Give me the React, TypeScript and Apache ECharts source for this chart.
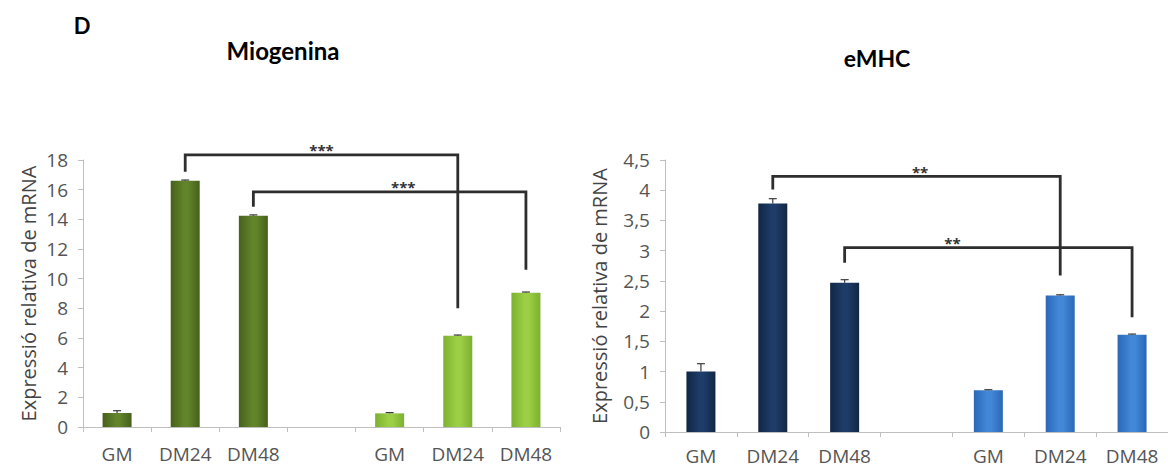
import React, { useEffect, useRef } from "react";
import * as echarts from "echarts";

const categories = ["GM", "DM24", "DM48", "", "GM", "DM24", "DM48"];

// Miogenina
const mioDark = [0.95, 16.6, 14.25, null, null, null, null];
const mioLight = [null, null, null, null, 0.92, 6.15, 9.05];
const mioErr = [0.15, 0.05, 0.05, null, 0.05, 0.05, 0.05];
const mioTicks = [0, 2, 4, 6, 8, 10, 12, 14, 16, 18];

// eMHC
const mhcDark = [1.0, 3.78, 2.47, null, null, null, null];
const mhcLight = [null, null, null, null, 0.69, 2.26, 1.61];
const mhcErr = [0.13, 0.08, 0.05, null, 0.01, 0.01, 0.01];
const mhcTicks = [0, 0.5, 1, 1.5, 2, 2.5, 3, 3.5, 4, 4.5];

// brackets: [fromCat, toCat, topValue, leftEndValue, rightEndValue, labelCat]
const mioBrackets = [
  [1, 5, 18.35, 17.2, 8.0, 3.0],
  [2, 6, 15.85, 14.85, 10.6, 4.2],
];
const mioStars = ["***", "***"];
const mhcBrackets = [
  [1, 5, 4.23, 4.01, 2.59, 3.05],
  [2, 6, 3.05, 2.8, 1.9, 3.5],
];
const mhcStars = ["**", "**"];

const TITLE_FONT = "Lato, 'Open Sans', sans-serif";
const FONT = "'Open Sans', Lato, sans-serif";
const AXIS_GRAY = "#bfbfbf";
const TEXT_GRAY = "#444";

function cyl(edge: string, mid: string) {
  return new echarts.graphic.LinearGradient(0, 0, 1, 0, [
    { offset: 0, color: edge },
    { offset: 0.45, color: mid },
    { offset: 0.6, color: mid },
    { offset: 1, color: edge },
  ]);
}

function bracketSeries(gridIdx: number, data: number[][], stars: string[]) {
  return {
    type: "custom",
    xAxisIndex: gridIdx,
    yAxisIndex: gridIdx,
    clip: false,
    silent: true,
    z: 5,
    encode: { x: 0, y: 2 },
    data: data,
    renderItem: (params: any, api: any) => {
      const x1 = api.value(0);
      const x2 = api.value(1);
      const top = api.value(2);
      const l = api.value(3);
      const r = api.value(4);
      const lc = api.value(5);
      const pL = api.coord([x1, l]);
      const pLT = api.coord([x1, top]);
      const pRT = api.coord([x2, top]);
      const pR = api.coord([x2, r]);
      const pLab = api.coord([Math.round(lc), top]);
      const size = api.size([1, 0]);
      const lx = pLab[0] + (lc - Math.round(lc)) * size[0];
      return {
        type: "group",
        children: [
          {
            type: "polyline",
            shape: { points: [pL, pLT, pRT, pR] },
            style: { stroke: "#2e2e2e", lineWidth: 2.8, fill: "none" },
          },
          {
            type: "text",
            x: lx,
            y: pLT[1] + 3,
            style: {
              text: stars[params.dataIndex],
              fontSize: 15,
              fontWeight: "bold",
              fill: "#333",
              align: "center",
              verticalAlign: "bottom",
              fontFamily: FONT,
            },
          },
        ],
      };
    },
  };
}

function errSeries(gridIdx: number, vals: (number | null)[], errs: (number | null)[]) {
  const data: any[] = [];
  vals.forEach((v, i) => {
    if (v != null && errs[i] != null) data.push([i, v, errs[i]]);
  });
  return {
    type: "custom",
    xAxisIndex: gridIdx,
    yAxisIndex: gridIdx,
    clip: false,
    silent: true,
    z: 4,
    encode: { x: 0, y: 1 },
    data,
    renderItem: (params: any, api: any) => {
      const i = api.value(0);
      const v = api.value(1);
      const e = api.value(2);
      const p0 = api.coord([i, v]);
      const p1 = api.coord([i, v + e]);
      return {
        type: "group",
        children: [
          {
            type: "line",
            shape: { x1: p0[0], y1: p0[1], x2: p1[0], y2: p1[1] },
            style: { stroke: "#3a3a3a", lineWidth: 1.2 },
          },
          {
            type: "line",
            shape: { x1: p1[0] - 4, y1: p1[1], x2: p1[0] + 4, y2: p1[1] },
            style: { stroke: "#3a3a3a", lineWidth: 1.2 },
          },
        ],
      };
    },
  };
}

function xAxis(gridIndex: number, margin: number) {
  return {
    type: "category",
    gridIndex,
    data: categories,
    axisLine: { lineStyle: { color: AXIS_GRAY, width: 1 } },
    axisTick: { show: true, length: 5, lineStyle: { color: AXIS_GRAY } },
    axisLabel: {
      color: "#555",
      fontSize: 19,
      margin,
      fontFamily: FONT,
      interval: 0,
    },
    splitLine: { show: false },
  };
}

function yAxis(gridIndex: number, ticks: number[], comma: boolean, gap: number) {
  return {
    type: "value",
    gridIndex,
    min: ticks[0],
    max: ticks[ticks.length - 1],
    interval: ticks[1] - ticks[0],
    name: "Expressió relativa de mRNA",
    nameLocation: "middle",
    nameGap: gap,
    nameTextStyle: { color: TEXT_GRAY, fontSize: 20, fontFamily: FONT },
    axisLine: { show: true, lineStyle: { color: AXIS_GRAY, width: 1 } },
    axisTick: { show: true, length: 5, lineStyle: { color: AXIS_GRAY } },
    axisLabel: {
      color: "#555",
      fontSize: 19,
      margin: 15,
      fontFamily: FONT,
      formatter: (v: number) => (comma ? String(v).replace(".", ",") : String(v)),
    },
    splitLine: { show: false },
  };
}

export default function App() {
  const ref = useRef<HTMLDivElement>(null);
  useEffect(() => {
    if (!ref.current) return;
    const chart = echarts.init(ref.current, null, { renderer: "svg" });
    const option: any = {
      animation: false,
      backgroundColor: "#ffffff",
      grid: [
        { left: 83, top: 160, width: 477, height: 267 },
        { left: 665, top: 160, width: 510, height: 272 },
      ],
      xAxis: [xAxis(0, 17), xAxis(1, 14)],
      yAxis: [yAxis(0, mioTicks, false, 45), yAxis(1, mhcTicks, true, 56)],
      graphic: [
        {
          type: "text",
          x: 82,
          y: 25,
          style: { text: "D", fontSize: 22, fontWeight: "bold", fill: "#000", fontFamily: TITLE_FONT, align: "center", verticalAlign: "middle" },
        },
        {
          type: "text",
          x: 283,
          y: 50,
          style: { text: "Miogenina", fontSize: 24, fontWeight: "bold", fill: "#000", fontFamily: TITLE_FONT, align: "center", verticalAlign: "middle" },
        },
        {
          type: "text",
          x: 877,
          y: 58,
          style: { text: "eMHC", fontSize: 23, fontWeight: "bold", fill: "#000", fontFamily: TITLE_FONT, align: "center", verticalAlign: "middle" },
        },
      ],
      series: [
        {
          type: "bar",
          xAxisIndex: 0,
          yAxisIndex: 0,
          data: mioDark,
          barWidth: 29,
          barGap: "-100%",
          itemStyle: { color: cyl("#46601c", "#62842a") },
        },
        {
          type: "bar",
          xAxisIndex: 0,
          yAxisIndex: 0,
          data: mioLight,
          barWidth: 29,
          barGap: "-100%",
          itemStyle: { color: cyl("#7cb030", "#9ccf45") },
        },
        {
          type: "bar",
          xAxisIndex: 1,
          yAxisIndex: 1,
          data: mhcDark,
          barWidth: 29,
          barGap: "-100%",
          itemStyle: { color: cyl("#112644", "#1d3c68") },
        },
        {
          type: "bar",
          xAxisIndex: 1,
          yAxisIndex: 1,
          data: mhcLight,
          barWidth: 29,
          barGap: "-100%",
          itemStyle: { color: cyl("#2b68b6", "#4287d8") },
        },
        errSeries(0, mioDark.map((v, i) => (v != null ? v : mioLight[i])), mioErr),
        errSeries(1, mhcDark.map((v, i) => (v != null ? v : mhcLight[i])), mhcErr),
        bracketSeries(0, mioBrackets, mioStars),
        bracketSeries(1, mhcBrackets, mhcStars),
      ],
    };
    chart.setOption(option);
    return () => chart.dispose();
  }, []);
  return (
    <div
      ref={ref}
      style={{ position: "fixed", left: 0, top: 0, width: 1168, height: 468, background: "#fff" }}
    />
  );
}
